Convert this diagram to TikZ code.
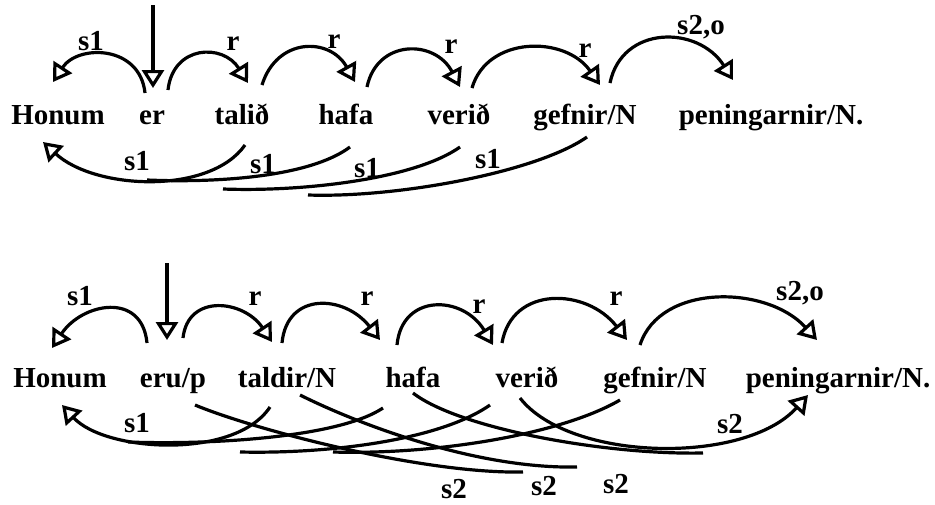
\documentclass[tikz,border=0pt]{standalone}
\usepackage{fontspec}
\setmainfont{Liberation Serif}
\usepackage{tikz}
\usetikzlibrary{arrows.meta}

\tikzset{
  word/.style={anchor=base, inner sep=0pt},
  lab/.style={anchor=base, inner sep=0pt},
  dep/.style={line width=3.2pt},
  deparr/.style={dep, -{Triangle[open, length=18pt, width=22pt]}},
}

\begin{document}
\begin{tikzpicture}[x=1pt, y=-1pt, every node/.style={font=\fontsize{29}{34}\selectfont\bfseries}]
  \useasboundingbox (0,0) rectangle (935,504);
  % upper sentence: words and labels
  \foreach \n/\x/\w in {hon1/58/Honum, er1/152/er, tal1/242/talið, hafa1/346/hafa, ver1/459/verið, gef1/585/{gefnir/N}, pen1/771/{peningarnir/N.}}
    \node[word] (\n) at (\x,124) {\w};
  \foreach \x/\y/\t [count=\i] in {91/50/s1, 233/50/r, 334/48/r, 451/53/r, 585/57/r, 701/34/{s2,o}, 137/170/s1, 263/173/s1, 367/177/s1, 488/168/s1}
    \node[lab] (la\i) at (\x,\y) {\t};
  \coordinate (top1) at (153,5);
  \coordinate (e1a) at (147,180);
  \coordinate (e1b) at (223,189);
  \coordinate (e1c) at (308,195);
  % arcs above
  \draw[deparr] (top1) -- ([shift={(1,-36)}]er1.base);
  \draw[deparr] ([shift={(-7,-31)}]er1.base) .. controls +(-5,-48) and +(25,-38) .. ([shift={(-5,-42)}]hon1.base);
  \draw[deparr] ([shift={(16,-34)}]er1.base) .. controls +(5,-45) and +(-25,-40) .. ([shift={(6,-41)}]tal1.base);
  \draw[deparr] ([shift={(20,-39)}]tal1.base) .. controls +(15,-48) and +(-25,-45) .. ([shift={(9,-42)}]hafa1.base);
  \draw[deparr] ([shift={(21,-37)}]hafa1.base) .. controls +(10,-48) and +(-25,-48) .. ([shift={(1,-37)}]ver1.base);
  \draw[deparr] ([shift={(13,-36)}]ver1.base) .. controls +(15,-52) and +(-35,-50) .. ([shift={(15,-39)}]gef1.base);
  \draw[deparr] ([shift={(25,-41)}]gef1.base) .. controls +(12,-58) and +(-35,-55) .. ([shift={(-38,-44)}]pen1.base);
  % arcs below (s1 chain)
  \draw[deparr] ([shift={(3,21)}]tal1.base) .. controls +(-35,50) and +(52,48) .. ([shift={(-15,18)}]hon1.base);
  \draw[dep] ([shift={(4,23)}]hafa1.base) .. controls +(-40,30) and +(70,3) .. (e1a);
  \draw[dep] ([shift={(1,23)}]ver1.base) .. controls +(-45,32) and +(80,3) .. (e1b);
  \draw[dep] ([shift={(2,13)}]gef1.base) .. controls +(-50,35) and +(90,3) .. (e1c);

  % lower sentence: words and labels
  \foreach \n/\x/\w in {hon2/60/Honum, eru2/173/{eru/p}, tal2/287/{taldir/N}, hafa2/413/hafa, ver2/527/verið, gef2/655/{gefnir/N}, pen2/838/{peningarnir/N.}}
    \node[word] (\n) at (\x,387) {\w};
  \foreach \x/\y/\t [count=\i] in {80/305/s1, 255/305/r, 367/305/r, 479/313/r, 616/305/r, 800/300/{s2,o}, 137/432/s1, 730/433/s2, 454/498/s2, 544/495/s2, 616/493/s2}
    \node[lab] (lb\i) at (\x,\y) {\t};
  \coordinate (top2) at (167,263);
  \coordinate (e2a) at (128,442);
  \coordinate (e2b) at (240,452);
  \coordinate (e2c) at (333,452);
  \coordinate (e2d) at (523,472);
  \coordinate (e2e) at (577,467);
  \coordinate (e2f) at (703,453);
  % arcs above
  \draw[deparr] (top2) -- ([shift={(-6,-47)}]eru2.base);
  \draw[deparr] ([shift={(-26,-44)}]eru2.base) .. controls +(-5,-52) and +(30,-45) .. ([shift={(-8,-39)}]hon2.base);
  \draw[deparr] ([shift={(10,-49)}]eru2.base) .. controls +(5,-45) and +(-28,-42) .. ([shift={(-15,-45)}]tal2.base);
  \draw[deparr] ([shift={(-5,-44)}]tal2.base) .. controls +(5,-52) and +(-35,-45) .. ([shift={(-33,-47)}]hafa2.base);
  \draw[deparr] ([shift={(-16,-42)}]hafa2.base) .. controls +(5,-52) and +(-30,-50) .. ([shift={(-34,-42)}]ver2.base);
  \draw[deparr] ([shift={(-25,-44)}]ver2.base) .. controls +(10,-58) and +(-40,-52) .. ([shift={(-28,-47)}]gef2.base);
  \draw[deparr] ([shift={(-15,-42)}]gef2.base) .. controls +(20,-62) and +(-50,-55) .. ([shift={(-21,-47)}]pen2.base);
  % arcs below (s1 chain)
  \draw[deparr] ([shift={(-17,20)}]tal2.base) .. controls +(-35,53) and +(43,47) .. ([shift={(2,18)}]hon2.base);
  \draw[dep] ([shift={(-30,21)}]hafa2.base) .. controls +(-45,30) and +(80,3) .. (e2a);
  \draw[dep] ([shift={(-37,18)}]ver2.base) .. controls +(-50,35) and +(90,2) .. (e2b);
  \draw[dep] ([shift={(-35,13)}]gef2.base) .. controls +(-60,35) and +(100,3) .. (e2c);
  % arcs below (s2 chain)
  \draw[dep] ([shift={(22,18)}]eru2.base) .. controls +(60,25) and +(-100,2) .. (e2d);
  \draw[dep] ([shift={(13,8)}]tal2.base) .. controls +(60,30) and +(-100,2) .. (e2e);
  \draw[dep] ([shift={(0,6)}]hafa2.base) .. controls +(45,35) and +(-100,2) .. (e2f);
  \draw[deparr] ([shift={(-7,11)}]ver2.base) .. controls +(50,64) and +(-63,70) .. ([shift={(-30,8)}]pen2.base);
\end{tikzpicture}
\end{document}
